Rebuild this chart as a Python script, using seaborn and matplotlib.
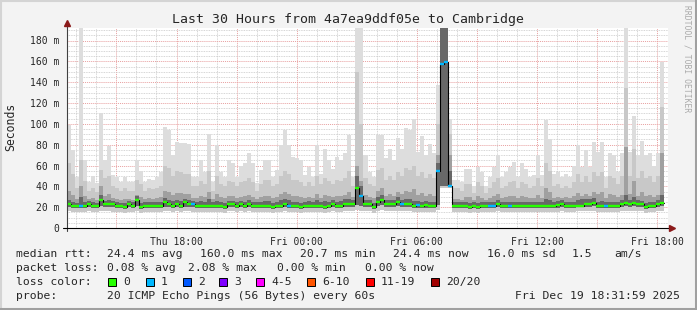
import numpy as np
import pandas as pd
import matplotlib
matplotlib.use("Agg")
import matplotlib.pyplot as plt
import seaborn as sns
from matplotlib.lines import Line2D
from matplotlib.patches import Rectangle
from matplotlib.ticker import MultipleLocator, FuncFormatter

# ---------------- data (12-minute bins, Thu 12:32 -> Fri 18:20) ----------------
t_start = 12 + 32 / 60          # hours since Thu 00:00
bin_hours = 0.2                 # 12 minutes

ping_max = [
    99, 75, 49, 192, 65, 44, 50, 43, 110, 65,
    79, 51, 49, 44, 49, 44, 44, 65, 55, 44,
    47, 46, 49, 54, 97, 94, 70, 83, 82, 82,
    81, 49, 49, 65, 54, 90, 44, 80, 54, 49,
    65, 62, 49, 60, 62, 72, 62, 43, 56, 65,
    65, 49, 56, 80, 94, 80, 68, 67, 65, 51,
    59, 49, 80, 52, 76, 65, 57, 68, 65, 72,
    89, 49, 192, 192, 70, 54, 49, 89, 89, 67,
    76, 65, 86, 76, 96, 94, 105, 73, 88, 70,
    81, 72, 137, 192, 192, 105, 46, 46, 44, 57,
    57, 40, 59, 54, 40, 49, 59, 70, 49, 54,
    59, 63, 49, 62, 57, 49, 51, 70, 51, 104,
    85, 52, 54, 49, 52, 49, 60, 80, 59, 75,
    59, 83, 73, 83, 49, 72, 70, 54, 72, 192,
    73, 108, 70, 84, 70, 72, 60, 72, 159]

ping_p90 = [
    62, 52, 38, 65, 45, 36, 38, 35, 56, 48,
    50, 40, 38, 36, 38, 36, 36, 46, 42, 36,
    38, 37, 38, 40, 60, 58, 50, 55, 54, 52,
    52, 40, 40, 45, 42, 55, 36, 50, 42, 40,
    45, 44, 40, 44, 45, 48, 44, 36, 42, 46,
    46, 40, 42, 50, 55, 52, 46, 46, 44, 40,
    44, 40, 50, 42, 48, 45, 42, 46, 45, 48,
    55, 40, 150, 100, 48, 42, 40, 56, 58, 46,
    50, 46, 54, 50, 58, 56, 60, 50, 54, 48,
    52, 48, 100, 192, 192, 90, 38, 38, 36, 42,
    42, 34, 44, 40, 34, 38, 44, 48, 38, 40,
    44, 45, 38, 44, 42, 38, 40, 48, 40, 62,
    55, 40, 42, 38, 40, 38, 44, 52, 44, 50,
    44, 54, 50, 54, 38, 50, 48, 42, 50, 134,
    50, 76, 48, 55, 48, 50, 44, 50, 116]

ping_p75 = [
    36, 32, 28, 40, 31, 28, 29, 27, 40, 31,
    33, 29, 28, 27, 28, 28, 27, 32, 30, 28,
    29, 28, 29, 30, 36, 35, 32, 34, 34, 33,
    33, 29, 29, 31, 30, 35, 28, 33, 30, 29,
    31, 31, 29, 30, 31, 32, 30, 28, 30, 31,
    31, 29, 30, 33, 35, 33, 31, 31, 30, 29,
    30, 29, 33, 29, 32, 31, 30, 31, 31, 32,
    35, 30, 60, 45, 32, 30, 29, 36, 38, 31,
    33, 31, 35, 33, 36, 35, 37, 32, 34, 31,
    33, 31, 70, 192, 192, 70, 28, 28, 27, 30,
    30, 27, 31, 29, 27, 29, 31, 33, 29, 30,
    31, 31, 29, 31, 30, 29, 29, 32, 29, 38,
    35, 29, 30, 29, 30, 29, 31, 34, 31, 33,
    31, 35, 33, 35, 29, 33, 32, 30, 32, 78,
    33, 45, 31, 35, 31, 32, 30, 32, 72]

ping_p60 = [
    27, 25, 24, 30, 25, 26, 25, 24, 32, 26,
    27, 26, 25, 24, 24, 26, 25, 31, 24, 25,
    25, 25, 25, 25, 29, 27, 26, 27, 26, 28,
    27, 26, 25, 26, 25, 28, 25, 26, 25, 24,
    26, 26, 25, 26, 25, 27, 25, 25, 25, 26,
    26, 24, 25, 27, 28, 27, 25, 25, 24, 25,
    26, 25, 27, 25, 26, 25, 27, 25, 26, 28,
    28, 27, 50, 40, 27, 27, 24, 30, 32, 27,
    27, 27, 30, 27, 28, 28, 26, 26, 25, 26,
    25, 25, 62, 192, 192, 55, 25, 25, 25, 25,
    24, 25, 24, 25, 25, 25, 25, 27, 25, 25,
    25, 25, 25, 25, 25, 25, 25, 25, 25, 28,
    27, 25, 26, 27, 25, 25, 25, 27, 28, 28,
    28, 29, 25, 26, 25, 25, 25, 25, 27, 32,
    27, 30, 27, 26, 24, 25, 25, 27, 32]

ping_p10 = [
    20, 19, 19, 19, 19, 20, 19, 19, 21, 20,
    20, 20, 19, 19, 18, 20, 19, 21, 18, 19,
    19, 19, 19, 19, 20, 20, 19, 20, 19, 20,
    20, 20, 19, 19, 19, 19, 19, 19, 19, 18,
    20, 20, 19, 20, 19, 20, 19, 19, 19, 19,
    19, 18, 19, 19, 20, 19, 19, 19, 18, 19,
    19, 19, 19, 19, 18, 19, 20, 19, 19, 20,
    20, 20, 22, 21, 20, 20, 18, 21, 22, 20,
    20, 20, 21, 20, 20, 20, 19, 19, 19, 19,
    19, 19, 22, 40, 40, 39, 19, 19, 19, 19,
    18, 19, 18, 19, 19, 19, 19, 20, 19, 19,
    19, 19, 19, 19, 19, 19, 19, 19, 19, 19,
    19, 19, 19, 20, 19, 19, 19, 20, 20, 20,
    20, 21, 19, 19, 19, 19, 19, 19, 20, 21,
    20, 21, 20, 20, 18, 19, 19, 20, 21]

ping_min = [
    16, 15, 15, 15, 15, 16, 15, 15, 16, 16,
    16, 15, 15, 15, 14, 15, 15, 16, 14, 15,
    15, 15, 15, 15, 16, 16, 15, 16, 15, 16,
    16, 15, 15, 15, 15, 15, 15, 15, 15, 14,
    16, 16, 15, 16, 15, 16, 15, 15, 15, 15,
    15, 14, 15, 15, 16, 15, 15, 15, 14, 15,
    15, 15, 15, 15, 14, 15, 16, 15, 15, 16,
    16, 16, 17, 16, 16, 16, 14, 16, 17, 16,
    16, 16, 16, 16, 16, 16, 15, 15, 15, 15,
    15, 15, 17, 38, 38, 38, 15, 15, 15, 15,
    14, 15, 14, 15, 15, 15, 15, 16, 15, 15,
    15, 15, 15, 15, 15, 15, 15, 15, 15, 15,
    15, 15, 15, 16, 15, 15, 15, 16, 16, 16,
    16, 16, 15, 15, 15, 15, 15, 15, 16, 16,
    16, 16, 16, 16, 14, 15, 15, 16, 16]

median_rtt = [
    23, 21.4, 21.4, 21.4, 21.4, 22.7, 21.4, 21.4, 26.5, 22.7,
    22.7, 22.7, 21.4, 21.4, 20, 22.7, 21.4, 27, 20, 21.4,
    21.4, 21.4, 21.4, 21.4, 25, 22.7, 21.4, 22.7, 21.4, 24.6,
    22.7, 22.7, 21.4, 21.4, 21.4, 21.4, 21.4, 21.4, 21.4, 20,
    22.7, 22.7, 21.4, 22.7, 21.4, 22.7, 21.4, 21.4, 21.4, 21.4,
    21.4, 20, 21.4, 21.4, 22.7, 21.4, 21.4, 21.4, 20, 21.4,
    21.4, 21.4, 21.4, 21.4, 20, 21.4, 22.7, 21.4, 21.4, 23.4,
    22.7, 22.7, 38.7, 31, 23, 22.7, 20.5, 25, 27, 22.7,
    22.7, 22.7, 25, 23, 23, 23, 21.4, 22, 21.4, 22,
    21.4, 21.4, 55, 157.6, 159.6, 40.6, 21.4, 21.4, 21.4, 21,
    20.5, 21.4, 20.5, 21.4, 21.4, 21.4, 21.4, 22.7, 21.4, 21.4,
    21.4, 21.4, 21.4, 21.4, 21.4, 21.4, 21.4, 21, 21.4, 21.4,
    21.4, 21.4, 22, 22.7, 21, 21, 21, 21, 21, 22.7,
    23.4, 24.3, 21.4, 21.4, 21.4, 21.4, 21.4, 21.4, 22.7, 24,
    22.7, 24, 22.7, 22.7, 20, 21.4, 21.4, 22.7, 24.3]

lost_pings = [
    0, 0, 0, 1, 0, 0, 0, 0, 0, 0,
    0, 0, 0, 0, 0, 0, 0, 0, 0, 0,
    0, 0, 0, 0, 0, 0, 0, 0, 0, 0,
    0, 1, 0, 0, 0, 0, 0, 0, 0, 0,
    0, 0, 0, 0, 0, 0, 0, 0, 0, 0,
    0, 0, 0, 0, 0, 1, 0, 0, 0, 0,
    0, 0, 0, 0, 0, 0, 0, 0, 0, 0,
    0, 0, 0, 1, 0, 0, 0, 0, 0, 0,
    0, 0, 0, 1, 0, 0, 0, 1, 0, 0,
    0, 0, 1, 1, 1, 1, 0, 0, 0, 0,
    0, 0, 0, 0, 0, 1, 1, 0, 0, 0,
    1, 0, 0, 0, 0, 0, 0, 0, 0, 0,
    0, 0, 0, 0, 0, 0, 0, 0, 0, 0,
    0, 0, 0, 0, 1, 0, 0, 0, 0, 0,
    0, 0, 0, 0, 0, 0, 0, 0, 0]

loss_labels = ["0", "1", "2", "3", "4-5", "6-10", "11-19", "20/20"]
loss_colors = ["#26ff00", "#00b8ff", "#0059ff", "#7e00ff", "#ff00ff",
               "#ff5500", "#ff0000", "#a10000"]
x_tick_labels = {18: "Thu 18:00", 24: "Fri 00:00", 30: "Fri 06:00",
                 36: "Fri 12:00", 42: "Fri 18:00"}

# ---------------- figure ----------------
sns.set_style("white")
plt.rcParams['font.family'] = ['DejaVu Sans Mono', 'DejaVu Sans']

W, H = 697, 310
fig = plt.figure(figsize=(W / 100, H / 100), dpi=100, facecolor='#f3f3f3')
ax = fig.add_axes([67 / W, (H - 228) / H, 601 / W, 200 / H])
ax.set_facecolor('white')
ax.set_xlim(t_start, t_start + 30)
ax.set_ylim(0, 192)

n = len(median_rtt)
edges = t_start + bin_hours * np.arange(n + 1)


def ext(a):
    a = np.asarray(a, dtype=float)
    return np.append(a, a[-1])


# grid
ax.xaxis.set_major_locator(MultipleLocator(3))
ax.xaxis.set_minor_locator(MultipleLocator(1))
ax.yaxis.set_major_locator(MultipleLocator(20))
ax.yaxis.set_minor_locator(MultipleLocator(5))
ax.grid(which='minor', color='#c8c8c8', lw=0.6, ls=(0, (1, 1)), zorder=0)
ax.grid(which='major', color='#e8a0a0', lw=0.7, ls=(0, (1, 1)), zorder=0)
ax.set_axisbelow(True)

# smoke
ax.fill_between(edges, ext(ping_min), ext(ping_max), step='post',
                color='#dddddd', lw=0, zorder=2)
ax.fill_between(edges, ext(ping_min), ext(ping_p90), step='post',
                color='#c8c8c8', lw=0, zorder=2)
ax.fill_between(edges, ext(ping_p10), ext(ping_p75), step='post',
                color='#a0a0a0', lw=0, zorder=2)
ax.fill_between(edges, ext(ping_p10), ext(ping_p60), step='post',
                color='#686868', lw=0, zorder=2)

# median line: black step, coloured by loss on top
df = pd.DataFrame({'t': edges, 'median': ext(median_rtt)})
sns.lineplot(data=df, x='t', y='median', drawstyle='steps-post',
             color='black', lw=0.8, ax=ax, zorder=4)
seg_colors = [loss_colors[k] for k in lost_pings]
ax.hlines(median_rtt, edges[:-1], edges[1:], colors=seg_colors, lw=1.7,
          zorder=5)

# ticks / labels
ax.xaxis.set_major_formatter(FuncFormatter(
    lambda v, p: x_tick_labels.get(int(round(v)), "") if abs(v - round(v)) < 1e-6 else ""))
ax.yaxis.set_major_formatter(FuncFormatter(
    lambda v, p: "0" if v == 0 else f"{v:.0f} m"))
ax.tick_params(axis='both', which='major', labelsize=7, length=2.5,
               color='#808080', pad=3, direction='out', width=0.7)
ax.tick_params(axis='both', which='minor', length=1.5, color='#b0b0b0',
               direction='out', width=0.7)
ax.tick_params(axis='x', pad=4)
ax.set_xlabel("")
ax.set_ylabel("")
for s in ax.spines.values():
    s.set_visible(False)

# axes lines with arrows (figure pixel coords)
def fx(px):
    return px / W


def fy(py):
    return 1 - py / H


fig.add_artist(Line2D([fx(67), fx(67)], [fy(231), fy(24)], color='#404040',
                      lw=0.8, transform=fig.transFigure))
fig.add_artist(Line2D([fx(63), fx(670)], [fy(228), fy(228)], color='black',
                      lw=0.8, transform=fig.transFigure))
fig.add_artist(Line2D([fx(67)], [fy(23)], marker='^', color='#8b1a1a',
                      markersize=4.5, lw=0, transform=fig.transFigure))
fig.add_artist(Line2D([fx(672)], [fy(228)], marker='>', color='#8b1a1a',
                      markersize=4.5, lw=0, transform=fig.transFigure))

# title, y label, credit
fig.text(fx(348), fy(19), "Last 30 Hours from 4a7ea9ddf05e to Cambridge",
         ha='center', va='center', fontsize=9.5)
fig.text(fx(11), fy(127), "Seconds", rotation=90, ha='center', va='center',
         fontsize=8.3)
fig.text(fx(687), fy(59), "RRDTOOL / TOBI OETIKER", rotation=270,
         ha='center', va='center', fontsize=5.8, color='#aaaaaa')

# legend text
fs = 8.2
rows = [
    (254, [(16, "median rtt:"), (107, "24.4 ms avg"), (200, "160.0 ms max"),
           (300, "20.7 ms min"), (393, "24.4 ms now"), (487, "16.0 ms sd"),
           (572, "1.5"), (614, "am/s")]),
    (268, [(16, "packet loss:"), (107, "0.08 % avg"), (188, "2.08 % max"),
           (277, "0.00 % min"), (365, "0.00 % now")]),
    (296, [(16, "probe:"), (107, "20 ICMP Echo Pings (56 Bytes) every 60s")]),
]
for y, items in rows:
    for x, s in items:
        fig.text(fx(x), fy(y), s, ha='left', va='center', fontsize=fs)
fig.text(fx(680), fy(296), "Fri Dec 19 18:31:59 2025", ha='right',
         va='center', fontsize=fs)

fig.text(fx(16), fy(282), "loss color:", ha='left', va='center', fontsize=fs)
box_x = [108, 146, 183, 219, 256, 307, 366, 431]
for bx, lab, col in zip(box_x, loss_labels, loss_colors):
    fig.add_artist(Rectangle((fx(bx), fy(286)), 8 / W, 8 / H, facecolor=col,
                             edgecolor='black', lw=0.7,
                             transform=fig.transFigure))
    fig.text(fx(bx + 15), fy(282), lab, ha='left', va='center', fontsize=fs)

# frame of the image
fig.add_artist(Line2D([0, 1], [fy(0.5), fy(0.5)], color='#d4d4d4', lw=1.5,
                      transform=fig.transFigure))
fig.add_artist(Line2D([fx(0.5), fx(0.5)], [0, 1], color='#d4d4d4', lw=1.5,
                      transform=fig.transFigure))
fig.add_artist(Line2D([0, 1], [fy(308.5), fy(308.5)], color='#a0a0a0', lw=2.2,
                      transform=fig.transFigure))
fig.add_artist(Line2D([fx(695.5), fx(695.5)], [0, 1], color='#a0a0a0',
                      lw=2.2, transform=fig.transFigure))

fig.savefig("out.png", dpi=100, facecolor=fig.get_facecolor())
